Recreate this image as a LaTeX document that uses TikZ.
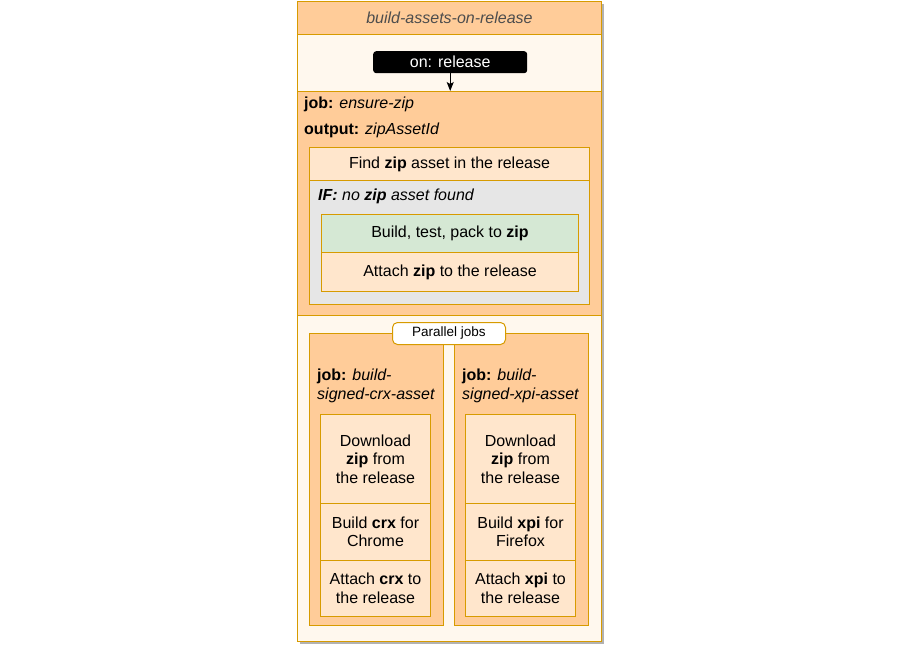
\documentclass[tikz,border=0pt]{standalone}
\usepackage{fontspec}
\setmainfont{Liberation Sans}
\usetikzlibrary{arrows.meta}
\definecolor{orfill}{HTML}{FFCC99}
\definecolor{lofill}{HTML}{FFE6CC}
\definecolor{cream}{HTML}{FFF8EE}
\definecolor{orline}{HTML}{D79B00}
\definecolor{grfill}{HTML}{E6E6E6}
\definecolor{gnfill}{HTML}{D5E8D4}
\definecolor{titlegray}{HTML}{4D4D4D}
\tikzset{
  x=1pt, y=-1pt,
  every node/.style={font=\fontsize{16}{18.5}\selectfont},
  band/.style={draw=orline, line width=1pt, inner sep=0pt, anchor=north west},
  stepbox/.style={band, fill=lofill, align=center},
  lbl/.style={anchor=west, inner sep=0pt},
  conn/.style={-{Stealth[length=9pt,width=7pt,inset=2pt]}, line width=1pt}
}
\begin{document}
\begin{tikzpicture}
\useasboundingbox (0,0) rectangle (900,646);
% shadow
\fill[black!30] (300,4) rectangle (604,644);
% outer sections
\node[band, fill=cream, minimum width=304, minimum height=640] (outer) at (297,1) {};
\node[band, fill=orfill, minimum width=304, minimum height=33] (title) at (297,1)
  {\textcolor{titlegray}{\itshape build-assets-on-release}};
\node[band, fill=cream, minimum width=304, minimum height=57] (sec1) at (297,34) {};
\node[band, fill=orfill, minimum width=304, minimum height=224] (sec2) at (297,91) {};
\node[band, fill=cream, minimum width=304, minimum height=326] (sec3) at (297,315) {};
% trigger
\node[fill=black, rounded corners=3pt, minimum width=154, minimum height=22, inner sep=0pt,
  text=white, anchor=north west] (onrel) at (373,51) {on: release};
\draw[conn] (onrel.south) -- (onrel.south |- sec2.north);
% ensure-zip job
\node[lbl] (jobz) at (304,104) {\textbf{job:} \textit{ensure-zip}};
\node[lbl] (outz) at (304,130) {\textbf{output:} \textit{zipAssetId}};
\node[stepbox, minimum width=280, minimum height=33] (find) at (309,147)
  {Find \textbf{zip} asset in the release};
\node[band, fill=grfill, minimum width=280, minimum height=124] (ifbox) at (309,180) {};
\node[lbl] (iflbl) at (318,196) {\textit{\textbf{IF:} no \textbf{zip} asset found}};
\node[stepbox, fill=gnfill, minimum width=257, minimum height=38] (build) at (321,214)
  {Build, test, pack to \textbf{zip}};
\node[stepbox, minimum width=257, minimum height=39] (attach) at (321,252)
  {Attach \textbf{zip} to the release};
% parallel jobs
\node[band, fill=orfill, minimum width=134, minimum height=292] (jobl) at (309,333) {};
\node[band, fill=orfill, minimum width=134, minimum height=292] (jobr) at (454,333) {};
\node[draw=orline, line width=1pt, fill=white, rounded corners=5pt, minimum width=113,
  minimum height=22, inner sep=0pt, anchor=north west, font=\fontsize{13.5}{15}\selectfont] (par) at (392,322) {Parallel jobs};
\node[lbl, align=left, anchor=north west] (jll) at (317,369)
  {\textbf{job:} \textit{build-}\\\textit{signed-crx-asset}};
\node[lbl, align=left, anchor=north west] (jrl) at (462,369)
  {\textbf{job:} \textit{build-}\\\textit{signed-xpi-asset}};
% left steps
\node[stepbox, minimum width=110, minimum height=89] (dl) at (320,414)
  {Download\\\textbf{zip} from\\the release};
\node[stepbox, minimum width=110, minimum height=57] (bl) at (320,503)
  {Build \textbf{crx} for\\Chrome};
\node[stepbox, minimum width=110, minimum height=56] (al) at (320,560)
  {Attach \textbf{crx} to\\the release};
% right steps
\node[stepbox, minimum width=110, minimum height=89] (dr) at (465,414)
  {Download\\\textbf{zip} from\\the release};
\node[stepbox, minimum width=110, minimum height=57] (br) at (465,503)
  {Build \textbf{xpi} for\\Firefox};
\node[stepbox, minimum width=110, minimum height=56] (ar) at (465,560)
  {Attach \textbf{xpi} to\\the release};
\end{tikzpicture}
\end{document}
